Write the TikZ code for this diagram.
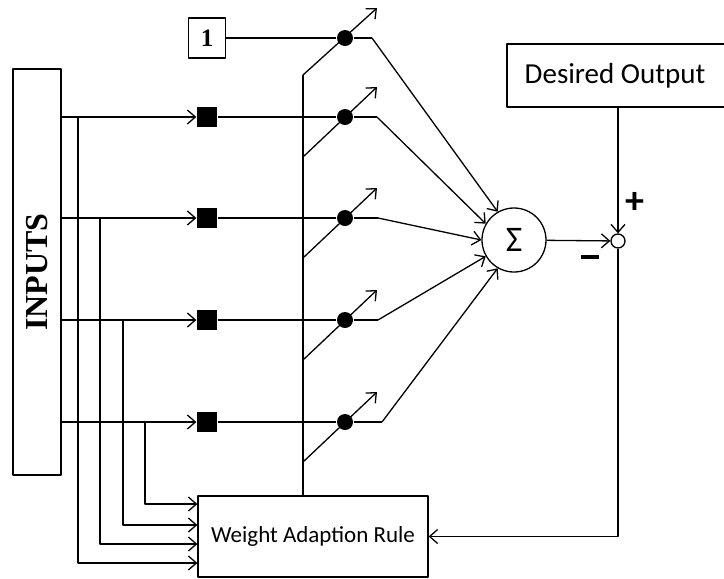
\documentclass[tikz,border=0pt]{standalone}
\usepackage{fontspec}
\setmainfont{Carlito}
\newfontfamily\tnr{Liberation Serif}
\usetikzlibrary{arrows.meta}
\tikzset{
  box/.style={draw, inner sep=0pt},
  wsq/.style={fill=black, inner sep=0pt, minimum size=10pt},
  wdot/.style={circle, fill=black, inner sep=0pt, minimum size=8pt},
  sgn/.style={font=\bfseries\fontsize{19}{19}\selectfont, inner sep=0pt},
}
\begin{document}
\begin{tikzpicture}[x=.5pt, y=-.5pt, line width=.65pt, line join=round,
  >={Straight Barb[length=4pt,width=7pt]}]
  \useasboundingbox (0,0) rectangle (724,579);
  % blocks
  \node[box, rotate=90, minimum width=203pt, minimum height=24pt, font=\tnr\bfseries\fontsize{16}{16}\selectfont] (inp) at (37,272) {INPUTS};
  \node[box, minimum width=18.5pt, minimum height=20pt, font=\tnr\bfseries\fontsize{12.5}{12.5}\selectfont] (one) at (207,38) {1};
  \node[box, minimum width=115pt, minimum height=40.5pt, font=\fontsize{11.5}{11.5}\selectfont] (wr) at (313,536.5) {Weight Adaption Rule};
  \node[box, minimum width=110pt, minimum height=31.5pt, font=\fontsize{14.5}{14.5}\selectfont] (des) at (617,75.5) {\hspace*{-2pt}Desired Output};
  \node[draw, circle, inner sep=0pt, minimum size=32pt, font=\fontsize{18}{18}\selectfont] (sum) at (514,240) {Σ};
  \node[draw, circle, inner sep=0pt, minimum size=7pt] (jn) at (618,241) {};
  % bias weight
  \node[wdot] (w0) at (345,38) {};
  \coordinate (b0) at (372,38);
  \coordinate (vtop) at (303,75);
  \draw (one) -- (w0) -- (b0);
  \draw[->] (b0) -- (sum.120);
  \draw[->] (vtop) -- (377,8);
  \draw (vtop) -- (vtop |- wr.north);
  % input rows
  \foreach \y/\bx/\tx/\ty/\ang [count=\i] in {117/377/78/563/150, 218/378/100/544/180, 320/378/123/525/210, 422/382/145/504/240}{
    \coordinate (in\i) at (61,\y);
    \node[wsq] (sq\i) at (207,\y) {};
    \node[wdot] (w\i) at (345,\y) {};
    \coordinate (b\i) at (\bx,\y);
    \coordinate (t\i) at (\tx,\y);
    \draw[->] (in\i) -- (sq\i);
    \draw (sq\i) -- (w\i) -- (b\i);
    \draw[->] (b\i) -- (sum.\ang);
    \draw[->] (303,\y+40) -- (377,\y-30);
    \draw[->] (t\i) |- (wr.west |- 0,\ty);
  }
  % error
  \draw[->] (sum) -- (jn);
  \draw[->] (jn |- des.south) -- (jn);
  \draw[->] (jn) |- (wr.east);
  \node[sgn] (plus) at (635,203) {+};
  \node[sgn] (minus) at (590,257) {\rule{9pt}{2.2pt}};
\end{tikzpicture}
\end{document}
